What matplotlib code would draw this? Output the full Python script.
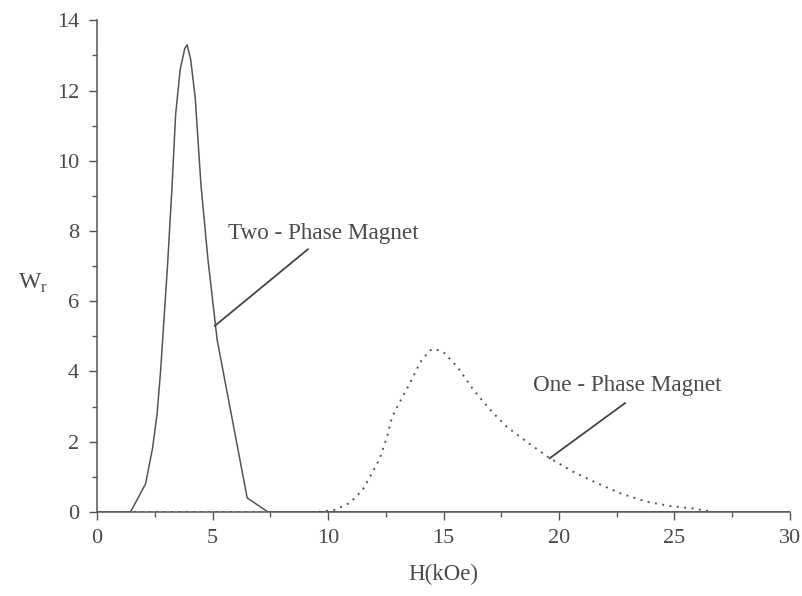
import matplotlib
matplotlib.use("Agg")
import matplotlib.pyplot as plt
from matplotlib.ticker import MultipleLocator

# Two-phase magnet curve (solid)
two_h = [0, 1.45, 2.1, 2.4, 2.6, 2.75, 2.85, 3.05, 3.25, 3.4, 3.6, 3.8, 3.9,
         4.05, 4.25, 4.5, 4.8, 5.2, 6.5, 7.4, 30]
two_w = [0, 0, 0.8, 1.8, 2.8, 4.0, 5.0, 7.0, 9.3, 11.3, 12.6, 13.2, 13.3,
         12.9, 11.8, 9.3, 7.2, 4.9, 0.4, 0, 0]

# One-phase magnet curve (dotted)
one_h = [0, 9.5, 10.3, 10.95, 11.5, 11.9, 12.25, 12.55, 12.77, 13.0, 13.55,
         14.0, 14.4, 14.6, 15.0, 15.6, 16.3, 17.1, 17.75, 18.7, 19.6, 20.6,
         21.65, 22.7, 23.8, 24.8, 25.8, 26.7, 30]
one_w = [0, 0, 0.06, 0.26, 0.63, 1.1, 1.54, 2.13, 2.7, 3.0, 3.67,
         4.27, 4.6, 4.64, 4.55, 4.13, 3.47, 2.85, 2.42, 1.95, 1.53, 1.15,
         0.82, 0.52, 0.29, 0.17, 0.1, 0, 0]

labels = ["Two - Phase Magnet", "One - Phase Magnet"]
x_ticks = [0, 5, 10, 15, 20, 25, 30]
y_ticks = [0, 2, 4, 6, 8, 10, 12, 14]

plt.rcParams['font.family'] = ['Liberation Serif', 'DejaVu Serif']
gray = '#555555'
tcol = '#4a4a4a'

fig = plt.figure(figsize=(8.02, 5.96), dpi=100)
ax = fig.add_axes([0.121, 0.141, 0.864, 0.825])

ax.plot(two_h, two_w, color=gray, lw=1.1)
ax.plot(one_h, one_w, color=gray, lw=1.4, linestyle=(0, (1, 2.8)))

ax.set_xlim(0, 30)
ax.set_ylim(0, 14)
ax.set_xticks(x_ticks)
ax.set_yticks(y_ticks)
ax.xaxis.set_minor_locator(MultipleLocator(2.5))
ax.yaxis.set_minor_locator(MultipleLocator(1))
ax.tick_params(which='major', direction='out', length=6, width=1, color=gray,
               labelsize=16, labelcolor=tcol)
ax.tick_params(axis='y', which='major', pad=7)
ax.tick_params(axis='x', which='major', pad=6)
ax.tick_params(which='minor', direction='out', length=3.5, width=1, color=gray)
for s in ['top', 'right']:
    ax.spines[s].set_visible(False)
for s in ['left', 'bottom']:
    ax.spines[s].set_color(gray)
    ax.spines[s].set_linewidth(1.1)

ax.set_xlabel('H(kOe)', fontsize=16.5, color=tcol, labelpad=12)
ax.set_ylabel(r'W$_{\mathregular{r}}$', fontsize=17, color=tcol, rotation=0,
              va='center', ha='center')
ax.yaxis.set_label_coords(-0.093, 0.465)

# annotations
ax.plot([5.1, 9.13], [5.3, 7.48], color='#444444', lw=1.3)
ax.text(5.67, 7.94, labels[0], fontsize=16.7, color=tcol, va='center', ha='left')
ax.plot([19.6, 22.86], [1.53, 3.1], color='#444444', lw=1.3)
ax.text(18.87, 3.61, labels[1], fontsize=16.7, color=tcol, va='center', ha='left')

fig.savefig('out.png', dpi=100)
